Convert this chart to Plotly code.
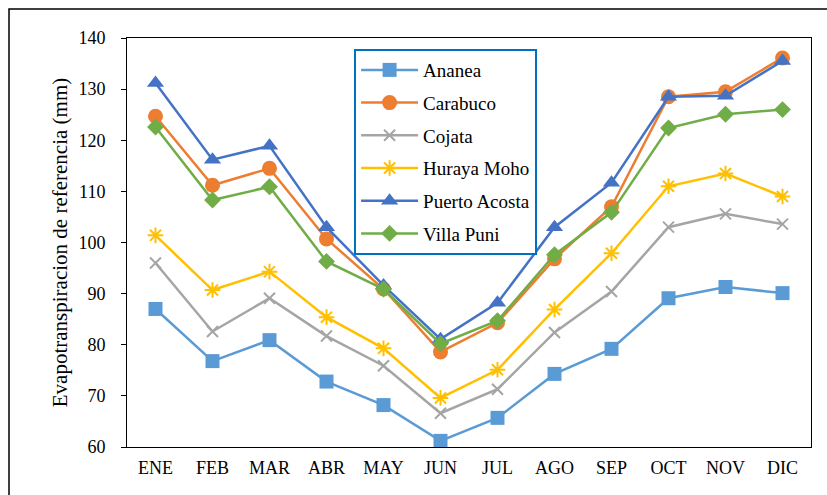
import plotly.graph_objects as go

months = ["ENE", "FEB", "MAR", "ABR", "MAY", "JUN", "JUL", "AGO", "SEP", "OCT", "NOV", "DIC"]

ananea = [87.0, 76.8, 80.9, 72.8, 68.2, 61.2, 65.7, 74.3, 79.2, 89.1, 91.3, 90.1]
carabuco = [124.7, 111.2, 114.5, 100.7, 90.9, 78.6, 84.3, 96.8, 107.0, 128.5, 129.5, 136.1]
cojata = [96.0, 82.6, 89.1, 81.7, 75.9, 66.6, 71.3, 82.4, 90.4, 103.0, 105.6, 103.6]
huraya = [101.4, 90.7, 94.3, 85.4, 79.3, 69.6, 75.1, 86.9, 97.9, 111.0, 113.5, 109.0]
puerto = [131.2, 116.2, 118.9, 103.0, 91.6, 81.1, 88.2, 103.0, 111.7, 128.5, 128.7, 135.5]
villa = [122.6, 108.3, 110.9, 96.3, 90.9, 80.2, 84.7, 97.6, 105.9, 122.4, 125.1, 126.0]

series = [
    ("Ananea", ananea, "#5B9BD5", dict(symbol="square", size=14)),
    ("Carabuco", carabuco, "#ED7D31", dict(symbol="circle", size=15)),
    ("Cojata", cojata, "#A5A5A5", dict(symbol="x-thin-open", size=11, line=dict(width=2, color="#A5A5A5"))),
    ("Huraya Moho", huraya, "#FFC000", dict(symbol="asterisk-open", size=13, line=dict(width=2, color="#FFC000"))),
    ("Puerto Acosta", puerto, "#4472C4", dict(symbol="triangle-up", size=15)),
    ("Villa Puni", villa, "#70AD47", dict(symbol="diamond", size=13)),
]

fig = go.Figure()
for name, vals, color, mk in series:
    marker = dict(color=color)
    marker.update(mk)
    fig.add_trace(go.Scatter(
        x=months, y=vals, name=name, mode="lines+markers",
        line=dict(color=color, width=2.5), marker=marker,
        legendgroup=name,
    ))

font_family = "'Liberation Serif', 'Times New Roman', serif"

fig.update_layout(
    width=827, height=495, autosize=False,
    margin=dict(l=127, r=16, t=38, b=48, pad=0, autoexpand=False),
    paper_bgcolor="white", plot_bgcolor="white",
    font=dict(family=font_family, color="black", size=18),
    showlegend=True,
    legend=dict(
        x=0.332, y=0.973, xanchor="left", yanchor="top",
        bgcolor="white", bordercolor="#0070C0", borderwidth=2,
        font=dict(family=font_family, size=19, color="black"),
        traceorder="grouped", tracegroupgap=5,
        itemwidth=57,
    ),
    xaxis=dict(
        type="category", range=[-0.5, len(months) - 0.5],
        showline=True, linecolor="black", linewidth=1, mirror=True,
        ticks="", showgrid=False, zeroline=False, automargin=False,
        tickfont=dict(family=font_family, size=18), ticklabelstandoff=4,
    ),
    yaxis=dict(
        range=[60, 140], dtick=10, tick0=60, automargin=False,
        showline=True, linecolor="black", linewidth=1, mirror=True,
        ticks="outside", ticklen=5, tickcolor="black",
        showgrid=False, zeroline=False,
        tickfont=dict(family=font_family, size=18), ticklabelstandoff=12,
        title=dict(text="Evapotranspiracion de referencia (mm)", font=dict(family=font_family, size=21), standoff=5),
    ),
    shapes=[dict(
        type="rect", xref="paper", yref="paper",
        x0=(9 - 127) / 684, x1=(840 - 127) / 684,
        y0=(447 - 510) / 409, y1=(447 - 9) / 409,
        line=dict(color="black", width=1.5), fillcolor="rgba(0,0,0,0)", layer="below",
    )],
)

fig.write_html(
    "out.html",
    config={"responsive": False, "displayModeBar": False},
    post_script="document.body.style.margin='0';document.body.style.padding='0';",
)
